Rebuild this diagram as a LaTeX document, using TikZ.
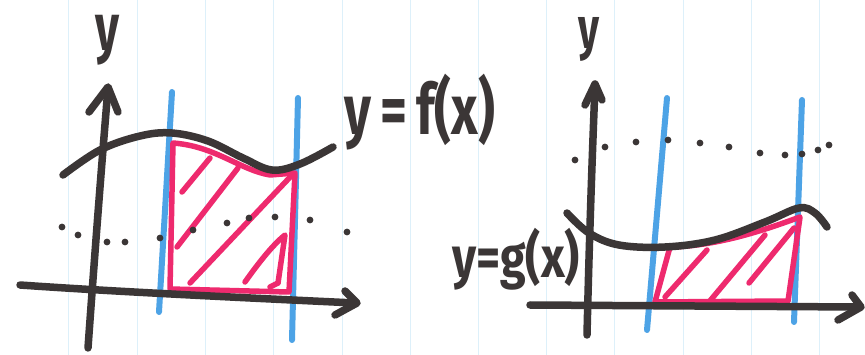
\documentclass[tikz,border=0pt]{standalone}
\usepackage{graphicx}
\usepackage{fontspec}
\newfontfamily\hand{Fira Sans}
\definecolor{ink}{HTML}{3B3636}
\definecolor{bluepen}{HTML}{4DA3E6}
\definecolor{pinkpen}{HTML}{EE2A6E}
\definecolor{paper}{HTML}{DDF0FA}
\begin{document}
\begin{tikzpicture}[x=1pt,y=-1pt,
  blk/.style={draw=ink,line width=7.5pt,line cap=round,line join=round},
  blu/.style={draw=bluepen,line width=6pt,line cap=round},
  pnk/.style={draw=pinkpen,line width=5.5pt,line cap=round,line join=round},
  dot/.style={fill=ink},
  lbl/.style={text=ink,inner sep=0pt,font=\hand\bfseries}]
\useasboundingbox (0,0) rectangle (865,355);
\fill[white] (0,0) rectangle (865,355);
\foreach \x in {68,137,205,273,342,410,478,546,614,683,751,819}
  \draw[paper,line width=1pt] (\x,0) -- (\x,355);

% ---------- left sketch ----------
\draw[blu] (172,92) -- (159,312);
\draw[blu] (298,98) -- (292,340);
\draw[pnk] (173,143) .. controls (215,146) and (240,170) .. (270,175)
  -- (295,173) -- (289,292) -- (170,289) -- cycle;
\draw[pnk] (182,192) -- (210,158);
\draw[pnk] (177,247) -- (238,168);
\draw[pnk] (190,283) -- (293,174);
\draw[pnk] (245,282) .. controls (262,258) and (275,243) .. (285,235) -- (278,283);
\draw[pnk] (270,287) -- (278,283);
\foreach \p in {(62,227),(78,235),(107,242),(125,242),(160,238),(193,230),
  (227,223),(249,218),(275,217),(310,220),(347,232)}
  \fill[dot] \p circle (3.4pt);
\draw[blk] (88,348) .. controls (95,250) and (102,160) .. (108,88);
\draw[blk] (89,112) -- (108,87) -- (118,112);
\draw[blk] (20,285) .. controls (120,292) and (250,298) .. (355,303);
\draw[blk] (345,291) -- (357,303) -- (335,315);
\draw[blk] plot[smooth,tension=0.6] coordinates
  {(63,175) (100,150) (140,136) (172,133) (208,141) (243,158) (272,170) (300,164) (333,147)};
\node[lbl] (ly1) at (107,40) {\resizebox*{24pt}{50pt}{y}};
\node[lbl] (lf) at (420,112) {\resizebox*{150pt}{76pt}{y\,=\,f(x)}};

% ---------- right sketch ----------
\draw[blu] (667,98) -- (647,330);
\draw[blu] (802,100) -- (794,322);
\draw[pnk] (670,247) .. controls (720,246) and (770,228) .. (800,217)
  -- (788,301) -- (655,302) -- cycle;
\draw[pnk] (665,297) -- (707,250);
\draw[pnk] (709,302) -- (765,235);
\draw[pnk] (749,283) -- (794,228);
\foreach \p in {(575,160),(605,147),(636,142),(668,140),(700,143),(729,147),
  (760,153),(785,155),(802,154),(818,150),(829,145)}
  \fill[dot] \p circle (3.4pt);
\draw[blk] (587,335) .. controls (589,250) and (592,160) .. (595,86);
\draw[blk] (585,105) -- (595,84) -- (602,100);
\draw[blk] (530,305) -- (859,307);
\draw[blk] (852,295) -- (861,307) -- (838,320);
\draw[blk] plot[smooth,tension=0.6] coordinates
  {(567,213) (589,233) (619,245) (665,247) (715,240) (765,222) (799,208) (815,213) (827,227)};
\node[lbl] (ly2) at (589,39) {\resizebox*{21pt}{44pt}{y}};
\node[lbl] (lg) at (516,259) {\resizebox*{128pt}{62pt}{y=g(x)}};
\end{tikzpicture}
\end{document}
